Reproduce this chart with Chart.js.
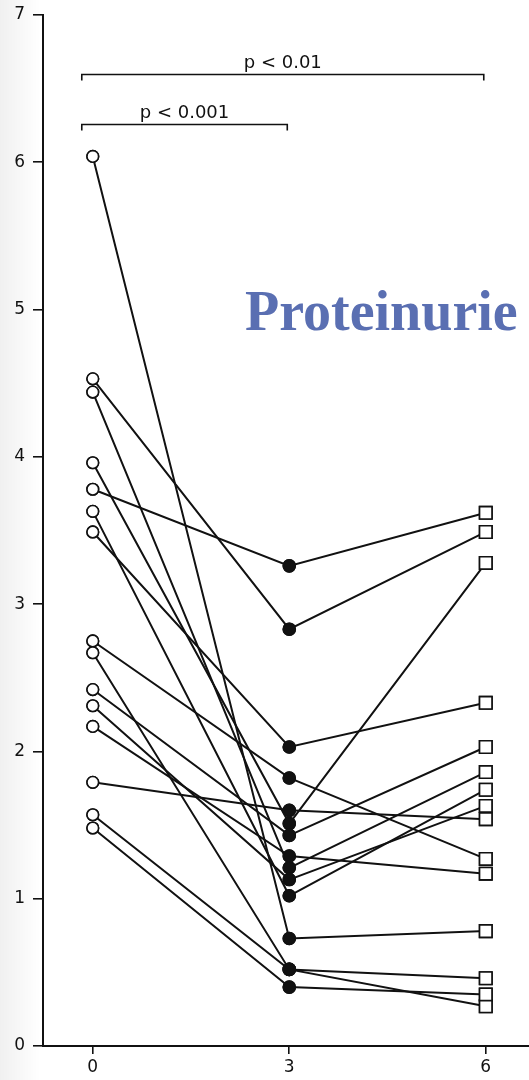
<!DOCTYPE html>
<html lang="de">
<head>
<meta charset="UTF-8">
<title>Proteinurie</title>
<script src="https://cdn.jsdelivr.net/npm/chart.js"></script>
<style>
    body { margin: 0; background: #fff; }
    #chart { display: block; }
</style>
</head>
<body>
<canvas id="chart" width="529" height="1080"></canvas>
<script>
// Messzeitpunkte (Monate) und Achsenbeschriftung
const months = [0, 3, 6];
const monthTicks = [0, 3, 6];
const valueTicks = [0, 1, 2, 3, 4, 5, 6, 7];

// Proteinurie je Patient: Ausgangswert, nach 3 und nach 6 Monaten
const baseline = [6.04, 4.53, 4.44, 3.96, 3.78, 3.63, 3.49, 2.75, 2.67, 2.42, 2.31, 2.17, 1.79, 1.57, 1.48];
const month3   = [0.73, 2.83, 1.21, 1.51, 3.26, 1.02, 2.03, 1.82, 0.52, 1.43, 1.13, 1.29, 1.60, 0.52, 0.40];
const month6   = [0.78, 3.49, 1.86, 3.28, 3.62, 1.74, 2.33, 1.27, 0.27, 2.03, 1.63, 1.17, 1.54, 0.46, 0.35];

// Signifikanzklammern
const comparisons = [
    { from: 0, to: 6, label: 'p < 0.01' },
    { from: 0, to: 3, label: 'p < 0.001' }
];

const ink = '#111';
const axisFont = { family: "'DejaVu Sans', sans-serif", size: 17 };

const datasets = baseline.map((v, i) => ({
    data: [
        { x: months[0], y: v },
        { x: months[1], y: month3[i] },
        { x: months[2], y: month6[i] }
    ],
    borderColor: ink,
    borderWidth: 2,
    tension: 0,
    fill: false,
    pointStyle: ['circle', 'circle', 'rect'],
    pointRadius: [5.8, 6, 8.8],
    pointBackgroundColor: ['#fff', ink, '#fff'],
    pointBorderColor: ink,
    pointBorderWidth: 1.6
}));

// leichter grauer Rand links (Scan)
const paperPlugin = {
    id: 'paper',
    beforeDraw(chart) {
        const ctx = chart.ctx;
        const g = ctx.createLinearGradient(0, 0, 40, 0);
        g.addColorStop(0, 'rgba(0,0,0,0.06)');
        g.addColorStop(1, 'rgba(0,0,0,0)');
        ctx.save();
        ctx.fillStyle = g;
        ctx.fillRect(0, 0, 40, chart.height);
        ctx.restore();
    }
};

// Marker nochmals über alle Linien zeichnen
const markerPlugin = {
    id: 'markers',
    afterDatasetsDraw(chart) {
        chart.data.datasets.forEach((d, i) => {
            chart.getDatasetMeta(i).data.forEach(pt => pt.draw(chart.ctx));
        });
    }
};

const bracketPlugin = {
    id: 'brackets',
    afterDraw(chart, args, opts) {
        const ctx = chart.ctx;
        const xs = chart.scales.x;
        const ys = chart.scales.y;
        ctx.save();
        ctx.strokeStyle = ink;
        ctx.fillStyle = ink;
        ctx.lineWidth = 1.6;
        ctx.font = "18px 'DejaVu Sans', sans-serif";
        ctx.textAlign = 'center';
        ctx.textBaseline = 'alphabetic';
        comparisons.forEach((c, i) => {
            const y = Math.round(ys.getPixelForValue(opts.levels[i])) + 0.5;
            const x1 = xs.getPixelForValue(c.from) - 11;
            const x2 = xs.getPixelForValue(c.to) - 2;
            ctx.beginPath();
            ctx.moveTo(x1, y + 6);
            ctx.lineTo(x1, y);
            ctx.lineTo(x2, y);
            ctx.lineTo(x2, y + 6);
            ctx.stroke();
            ctx.fillText(c.label, (x1 + x2) / 2, y - 7);
        });

        // Titel im Diagramm
        ctx.fillStyle = '#5a6fb2';
        ctx.font = "bold 56px 'Liberation Serif', serif";
        ctx.textAlign = 'left';
        ctx.fillText('Proteinurie', 245, 330);
        ctx.restore();
    }
};

new Chart(document.getElementById('chart'), {
    type: 'line',
    data: { datasets },
    plugins: [paperPlugin, markerPlugin, bracketPlugin],
    options: {
        responsive: false,
        devicePixelRatio: 1,
        animation: false,
        layout: { autoPadding: false, padding: { top: 15, right: 0, bottom: 0, left: 0 } },
        plugins: {
            legend: { display: false },
            tooltip: { enabled: false },
            brackets: { levels: [6.6, 6.26] }
        },
        scales: {
            x: {
                type: 'linear',
                min: -0.76,
                max: 6.66,
                afterBuildTicks: s => { s.ticks = monthTicks.map(v => ({ value: v })); },
                afterFit: s => { s.height = 34; s.paddingLeft = 0; s.paddingRight = 0; },
                grid: { drawOnChartArea: false, drawTicks: true, tickLength: 8, color: ink, lineWidth: 1.6 },
                border: { display: true, color: ink, width: 2 },
                ticks: { color: ink, font: axisFont, padding: 3, maxRotation: 0 }
            },
            y: {
                min: 0,
                max: 7,
                afterBuildTicks: s => { s.ticks = valueTicks.map(v => ({ value: v })); },
                afterFit: s => { s.width = 43; s.paddingTop = 0; s.paddingBottom = 0; },
                grid: { drawOnChartArea: false, drawTicks: true, tickLength: 10, color: ink, lineWidth: 1.6 },
                border: { display: true, color: ink, width: 2 },
                ticks: { color: ink, font: axisFont, padding: 8 }
            }
        }
    }
});
</script>
</body>
</html>
